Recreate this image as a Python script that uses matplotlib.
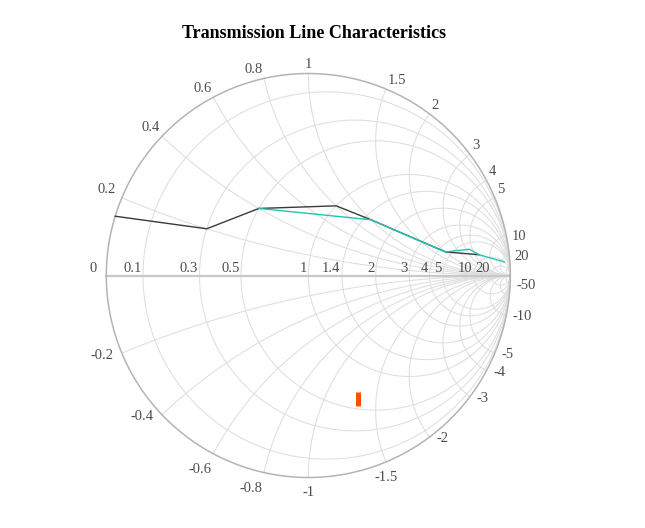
import numpy as np
import matplotlib.pyplot as plt

plt.rcParams['font.family'] = ['Liberation Serif', 'DejaVu Serif']

# grid / tick values of the Smith chart
real_ticks = [0.1, 0.3, 0.5, 1, 1.4, 2, 3, 4, 5, 10, 20]
imag_ticks = [0.2, 0.4, 0.6, 0.8, 1, 1.5, 2, 3, 4, 5, 10, 20, 50]
real_labels = [0, 0.1, 0.3, 0.5, 1, 1.4, 2, 3, 4, 5, 10, 20]
imag_labels = [0.2, 0.4, 0.6, 0.8, 1, 1.5, 2, 3, 4, 5, 10, 20,
               -0.2, -0.4, -0.6, -0.8, -1, -1.5, -2, -3, -4, -5, -10, -50]

# traces (normalised impedance z = r + jx)
line1_real = [0, 0.3, 0.5, 1.0, 1.5, 4.5, 8]
line1_imag = [0.15, 0.2, 0.4, 0.8, 1.0, 2.0, 6]
line2_real = [0.5, 1.5, 4.5, 6, 8, 10]
line2_imag = [0.4, 1.0, 2.0, 4.5, 6, 25]
point_real = [0.6]
point_imag = [-1.3]


def gamma(r, x):
    z = np.asarray(r, dtype=float) + 1j * np.asarray(x, dtype=float)
    return (z - 1) / (z + 1)


W, H = 645, 528
cx, cy, R = 308.3, 275.5, 202.0   # chart centre / radius in pixels
fig = plt.figure(figsize=(W / 100, H / 100), dpi=100)
ax = fig.add_axes([0, 0, 1, 1])
ax.set_xlim(-cx / R, (W - cx) / R)
ax.set_ylim(-(H - cy) / R, cy / R)
ax.set_aspect('equal')
ax.axis('off')

grid_kw = dict(color='#dedede', lw=0.75, zorder=1)
t = np.linspace(-np.pi / 2 + 1e-4, np.pi / 2 - 1e-4, 1500)
for r in real_ticks:
    g = gamma(r, np.tan(t))
    ax.plot(g.real, g.imag, **grid_kw)
t2 = np.linspace(0, np.pi / 2 - 1e-4, 1500)
for xv in imag_ticks:
    for s in (1, -1):
        g = gamma(np.tan(t2), s * xv)
        ax.plot(g.real, g.imag, **grid_kw)

# real axis and outer boundary
ax.plot([-1, 1], [0, 0], color='#c8c8c8', lw=1.6, zorder=2)
th = np.linspace(0, 2 * np.pi, 800)
ax.plot(np.cos(th), np.sin(th), color='#b4b4b4', lw=1.1, zorder=2)

# traces
g1 = gamma(line1_real, line1_imag)
ax.plot(g1.real, g1.imag, color='#3a3a3a', lw=1.0, zorder=4)
g2 = gamma(line2_real, line2_imag)
ax.plot(g2.real, g2.imag, color='#22c4b4', lw=1.0, zorder=5)
g3 = gamma(point_real, point_imag)
ax.plot(g3.real, g3.imag, ls='none', marker='|', markersize=10,
        markeredgewidth=3.6, color='#ff5000', zorder=6)

label_kw = dict(fontsize=10.5, color='#4d4d4d', zorder=7)

# real-axis labels
for r in real_labels:
    g = gamma(r, 0)
    dx = -9.5 if r == 0 else -1.5
    ax.annotate('{:g}'.format(r), xy=(g.real, 0), xytext=(dx, 3.8),
                textcoords='offset pixels', ha='right', va='baseline', **label_kw)


def rim_placement(deg):
    """text anchor and pixel offset (x right, y up) for a rim label"""
    c = np.cos(np.radians(deg))
    if deg > 0:
        if deg <= 15:
            return 'left', 5, -4.5
        if deg < 80:
            return 'left', 2, 5
        if deg <= 100:
            return 'center', 0, 5.5
        if deg < 165:
            return 'right', -1.5 + 6 * min(0, c + 0.7) / 0.3, 5
        return 'right', -8, -4.5
    if deg >= -60:
        return 'left', 6.5, -5
    if deg >= -100:
        return 'center', 0, -19
    if deg >= -125:
        return 'right', -1.5, -19
    return 'right', -8.5, -5.5


# imaginary labels around the rim
for xv in imag_labels:
    g = gamma(0, xv)
    ha, dx, dy = rim_placement(np.degrees(np.angle(g)))
    ax.annotate('{:g}'.format(xv), xy=(g.real, g.imag), xytext=(dx, dy),
                textcoords='offset pixels', ha=ha, va='baseline', **label_kw)

fig.text(314 / W, 1 - 33 / H, 'Transmission Line Characteristics',
         ha='center', va='center', fontsize=13, fontweight='bold', color='#000000')

fig.savefig('out.png', dpi=100)
